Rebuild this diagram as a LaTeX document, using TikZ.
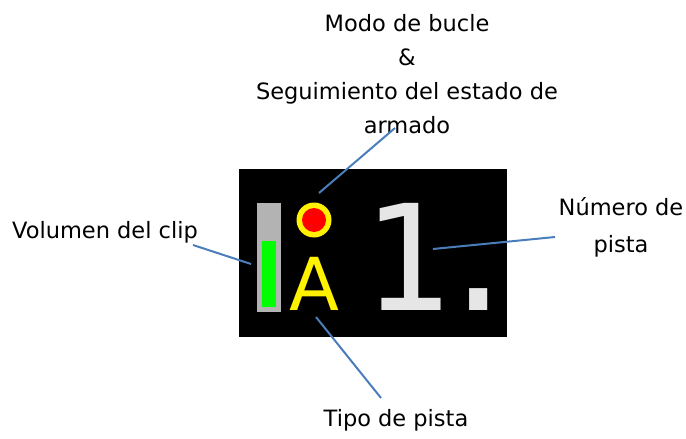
\documentclass[tikz,border=0pt]{standalone}
\usepackage{fontspec}
\setmainfont{DejaVu Sans}
\newfontfamily\monofont{DejaVu Sans Mono}
\usepackage{tikz}
\usetikzlibrary{positioning}
\definecolor{calloutblue}{RGB}{74,126,187}
\definecolor{bargray}{RGB}{179,179,179}
\definecolor{digitgray}{RGB}{230,230,230}
\tikzset{callout/.style={draw=calloutblue,line width=2pt},
  note/.style={inner sep=0pt,align=center,font=\fontsize{22.5}{34}\selectfont}}

\begin{document}
\begin{tikzpicture}[x=1pt,y=-1pt]
\useasboundingbox (0,0) rectangle (686,439);
% clip slot
\fill[black] (239,169) rectangle (507,337);
\node (vol) [fill=bargray,minimum width=24pt,minimum height=109pt,inner sep=0pt] at (269,257.5) {};
\fill[green] (262,241) rectangle (276,307);
\node (loop) [circle,fill=yellow,minimum size=35pt,inner sep=0pt] at (314,220) {};
\fill[red] (loop) circle (12pt);
\node (kind) [anchor=base,inner sep=0pt,text=yellow,font=\fontsize{73}{73}\selectfont] at (314,310) {A};
\node (number) [anchor=base west,inner sep=0pt,text=digitgray,font=\monofont\fontsize{147}{147}\selectfont] at (361.8,310) {1\kern-16.5pt.};
%
\node (loopnote) [note] at (407,74) {Modo de bucle\\\&\\Seguimiento del estado de\\armado};
\node (volnote) [note] at (105,232) {Volumen del clip};
\node (numnote) [note,font=\fontsize{22.5}{37}\selectfont] at (621,227) {Número de\\pista};
\node (kindnote) [note] at (396,420) {Tipo de pista};
%
\coordinate (loopa) at (395,128);
\coordinate (loopb) at (319,193);
\coordinate (vola) at (193,245);
\coordinate (volb) at (251,264);
\coordinate (numa) at (555,237);
\coordinate (numb) at (433,249);
\coordinate (kinda) at (381,398);
\coordinate (kindb) at (316,317);
\path[callout] (loopa) edge (loopb);
\path[callout] (vola) edge (volb);
\path[callout] (numa) edge (numb);
\path[callout] (kinda) edge (kindb);
\end{tikzpicture}
\end{document}
